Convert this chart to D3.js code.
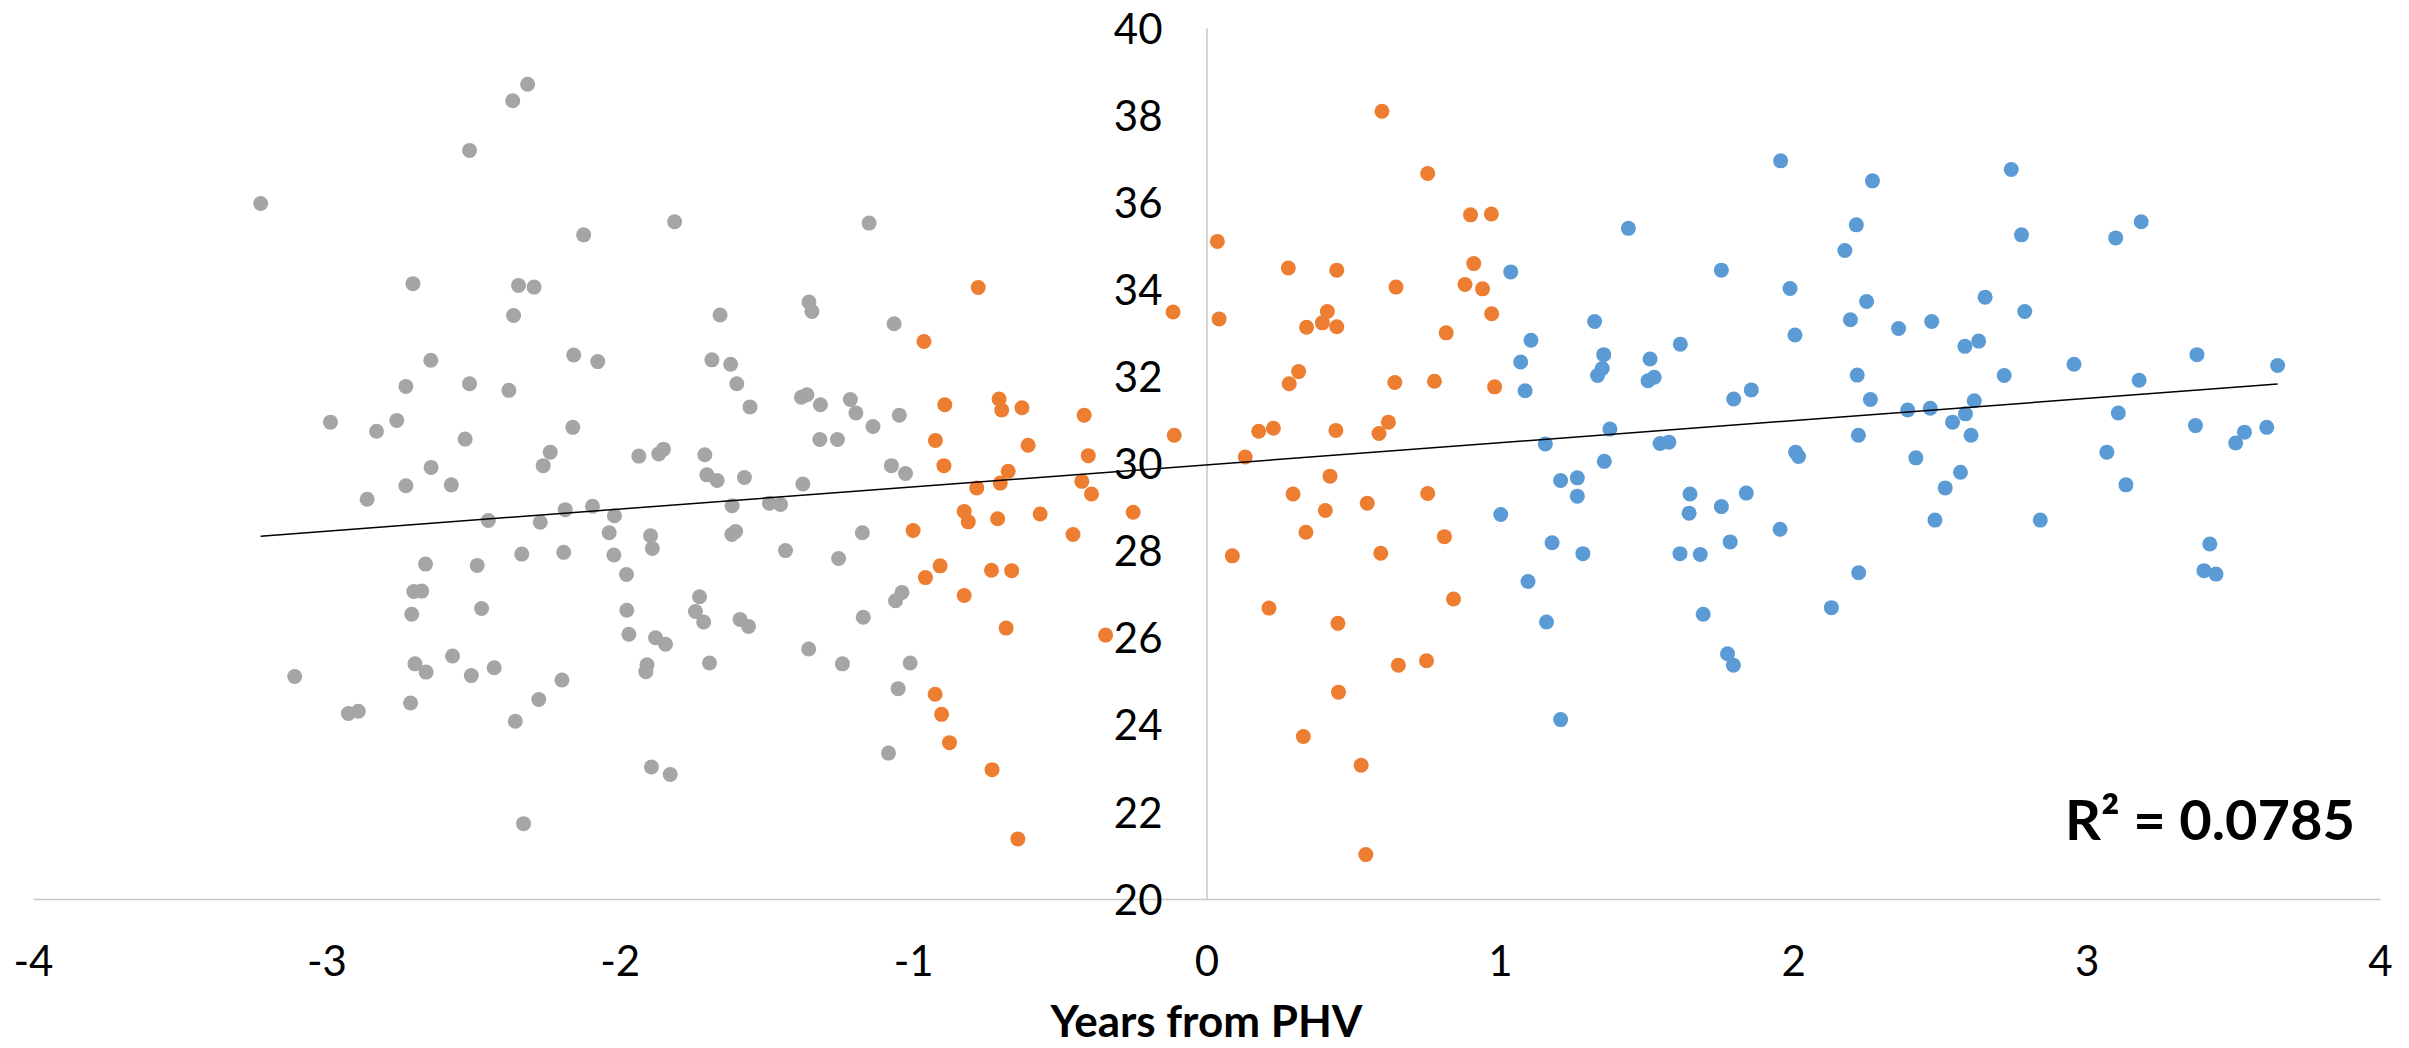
<!DOCTYPE html>
<html>
<head>
<meta charset="utf-8">
<script src="https://cdn.jsdelivr.net/npm/d3@7"></script>
<style>
    body { margin: 0; background: #fff; }
    text { font-family: Lato, "Open Sans", sans-serif; fill: #000; }
</style>
</head>
<body>
<div id="chart"></div>
<script>

// Points: [years from PHV, value]
var grayPts = [
    [-2.314, 38.71], [-2.365, 38.33], [-2.512, 37.19], [-3.224, 35.97], [-1.813, 35.55], [-2.123, 35.25],
    [-2.705, 34.13], [-2.345, 34.09], [-2.292, 34.05], [-2.362, 33.40], [-1.658, 33.41], [-2.644, 32.37],
    [-2.157, 32.49], [-2.075, 32.34], [-1.686, 32.38], [-1.622, 32.28], [-2.729, 31.77], [-2.512, 31.83],
    [-2.378, 31.68], [-1.601, 31.83], [-1.556, 31.30], [-2.986, 30.95], [-2.829, 30.74], [-2.760, 30.99],
    [-2.527, 30.56], [-2.160, 30.83], [-2.237, 30.26], [-1.935, 30.17], [-1.867, 30.22], [-1.851, 30.33],
    [-1.710, 30.20], [-2.643, 29.91], [-2.261, 29.95], [-2.861, 29.18], [-2.729, 29.49], [-2.574, 29.51],
    [-1.703, 29.74], [-1.668, 29.61], [-1.575, 29.68], [-2.448, 28.69], [-2.271, 28.65], [-2.186, 28.94],
    [-2.093, 29.02], [-2.018, 28.80], [-2.036, 28.41], [-1.895, 28.34], [-1.889, 28.05], [-1.617, 29.03],
    [-1.618, 28.37], [-1.605, 28.44], [-2.662, 27.69], [-2.486, 27.66], [-2.334, 27.92], [-2.191, 27.96],
    [-2.020, 27.90], [-1.977, 27.45], [-2.702, 27.06], [-2.675, 27.07], [-2.709, 26.54], [-2.471, 26.67],
    [-1.976, 26.63], [-1.969, 26.08], [-1.728, 26.94], [-1.742, 26.60], [-1.714, 26.36], [-1.590, 26.42],
    [-1.561, 26.26], [-1.878, 26.00], [-1.844, 25.85], [-1.907, 25.38], [-1.911, 25.22], [-1.694, 25.42],
    [-3.108, 25.11], [-2.698, 25.40], [-2.660, 25.21], [-2.570, 25.58], [-2.506, 25.13], [-2.428, 25.31],
    [-2.197, 25.03], [-2.925, 24.26], [-2.891, 24.31], [-2.713, 24.50], [-2.276, 24.58], [-2.356, 24.08],
    [-1.892, 23.03], [-1.828, 22.86], [-2.328, 21.73], [-1.150, 35.52], [-1.355, 33.71], [-1.345, 33.49],
    [-1.065, 33.21], [-1.381, 31.52], [-1.362, 31.58], [-1.316, 31.35], [-1.214, 31.47], [-1.195, 31.16],
    [-1.047, 31.11], [-1.137, 30.85], [-1.318, 30.55], [-1.258, 30.55], [-1.074, 29.95], [-1.026, 29.77],
    [-1.376, 29.53], [-1.490, 29.09], [-1.452, 29.06], [-1.173, 28.41], [-1.435, 28.00], [-1.254, 27.82],
    [-1.038, 27.04], [-1.060, 26.85], [-1.170, 26.47], [-1.356, 25.74], [-1.241, 25.40], [-1.010, 25.42],
    [-1.051, 24.83], [-1.084, 23.35]
];

var orangePts = [
    [-0.778, 34.04], [-0.963, 32.80], [-0.114, 33.48], [0.037, 35.10], [0.043, 33.32], [-0.892, 31.35],
    [-0.707, 31.48], [-0.698, 31.23], [-0.629, 31.28], [-0.417, 31.11], [-0.924, 30.53], [-0.608, 30.42],
    [-0.110, 30.65], [-0.403, 30.18], [0.178, 30.74], [0.132, 30.15], [-0.895, 29.95], [-0.676, 29.82],
    [-0.783, 29.44], [-0.703, 29.55], [-0.425, 29.59], [-0.392, 29.30], [-0.826, 28.90], [-0.812, 28.66],
    [-0.712, 28.73], [-0.567, 28.84], [-0.250, 28.88], [-1.000, 28.46], [-0.455, 28.37], [-0.908, 27.65],
    [-0.958, 27.38], [-0.733, 27.55], [-0.664, 27.54], [-0.826, 26.97], [-0.683, 26.22], [-0.344, 26.06],
    [0.088, 27.88], [-0.925, 24.70], [-0.903, 24.24], [-0.876, 23.59], [-0.731, 22.97], [-0.643, 21.38],
    [0.598, 38.09], [0.754, 36.66], [0.900, 35.71], [0.971, 35.73], [0.911, 34.59], [0.279, 34.49],
    [0.444, 34.44], [0.646, 34.05], [0.881, 34.11], [0.941, 34.01], [0.972, 33.44], [0.412, 33.49],
    [0.395, 33.23], [0.341, 33.13], [0.444, 33.14], [0.817, 33.00], [0.314, 32.11], [0.282, 31.83],
    [0.642, 31.86], [0.777, 31.89], [0.982, 31.76], [0.228, 30.81], [0.441, 30.76], [0.620, 30.95],
    [0.588, 30.69], [0.421, 29.71], [0.295, 29.30], [0.405, 28.92], [0.548, 29.09], [0.754, 29.31],
    [0.339, 28.42], [0.811, 28.32], [0.594, 27.94], [0.842, 26.89], [0.213, 26.68], [0.448, 26.33],
    [0.654, 25.37], [0.750, 25.47], [0.450, 24.75], [0.330, 23.73], [0.527, 23.07], [0.543, 21.02]
];

var bluePts = [
    [1.037, 34.40], [1.438, 35.40], [1.755, 34.44], [1.323, 33.26], [1.106, 32.83], [1.071, 32.33],
    [1.086, 31.67], [1.354, 32.50], [1.349, 32.18], [1.333, 32.02], [1.512, 32.40], [1.526, 31.98],
    [1.505, 31.90], [1.615, 32.74], [1.857, 31.69], [1.797, 31.48], [1.375, 30.79], [1.155, 30.45],
    [1.546, 30.46], [1.576, 30.49], [1.356, 30.05], [1.003, 28.83], [1.207, 29.61], [1.264, 29.67],
    [1.264, 29.25], [1.178, 28.18], [1.283, 27.93], [1.096, 27.29], [1.159, 26.36], [1.207, 24.12],
    [1.648, 29.30], [1.645, 28.86], [1.755, 29.01], [1.840, 29.32], [1.785, 28.20], [1.614, 27.93],
    [1.683, 27.91], [1.693, 26.54], [1.776, 25.63], [1.796, 25.37], [1.957, 36.95], [2.270, 36.49],
    [2.743, 36.75], [2.215, 35.48], [2.176, 34.89], [2.778, 35.25], [3.099, 35.18], [3.186, 35.55],
    [1.989, 34.02], [2.250, 33.72], [2.195, 33.30], [2.006, 32.95], [2.359, 33.10], [2.472, 33.26],
    [2.654, 33.82], [2.789, 33.49], [2.585, 32.69], [2.632, 32.81], [2.218, 32.03], [2.719, 32.02],
    [2.957, 32.28], [3.376, 32.50], [3.651, 32.25], [3.179, 31.91], [2.263, 31.47], [2.390, 31.23],
    [2.467, 31.27], [2.617, 31.44], [2.587, 31.14], [2.543, 30.95], [2.222, 30.65], [2.606, 30.65],
    [3.108, 31.16], [3.371, 30.87], [3.538, 30.72], [3.508, 30.47], [3.614, 30.83], [3.069, 30.26],
    [2.008, 30.26], [2.018, 30.16], [2.418, 30.13], [1.955, 28.49], [2.570, 29.80], [2.518, 29.44],
    [2.483, 28.70], [2.842, 28.70], [3.134, 29.51], [2.223, 27.49], [2.130, 26.69], [3.420, 28.15],
    [3.400, 27.54], [3.441, 27.46]
];

var xTicks = [-4, -3, -2, -1, 0, 1, 2, 3, 4];
var yTicks = [20, 22, 24, 26, 28, 30, 32, 34, 36, 38, 40];
var xTitle = "Years from PHV";
var r2Label = "R\u00B2 = 0.0785";

var W = 2409, H = 1048;

var svg = d3.select("#chart").append("svg")
    .attr("width", W)
    .attr("height", H);

var x = d3.scaleLinear().domain([-4, 4]).range([33, 2380]);
var y = d3.scaleLinear().domain([20, 40]).range([899, 28]);

// x axis sits at y = 20, plain hyphen for negatives like the original
var xAxis = svg.append("g")
    .attr("transform", `translate(0,${y(20)})`)
    .call(d3.axisBottom(x).tickValues(xTicks).tickSize(0).tickPadding(47).tickFormat(d => String(d)));

// y axis crosses at x = 0
var yAxis = svg.append("g")
    .attr("transform", `translate(${x(0)},0)`)
    .call(d3.axisLeft(y).tickValues(yTicks).tickSize(0).tickPadding(44));

[xAxis, yAxis].forEach(g => {
    g.select(".domain").attr("stroke", "#c6c6c6").attr("stroke-width", 1.5);
    g.selectAll("text").attr("font-size", 42).attr("fill", "#000");
});
yAxis.selectAll("text").attr("dy", "0.36em");

// points
var series = [
    {pts: grayPts, color: "#a5a5a5"},
    {pts: orangePts, color: "#ed7d31"},
    {pts: bluePts, color: "#5b9bd5"}
];

series.forEach(s => {
    svg.append("g")
        .selectAll("circle")
        .data(s.pts)
        .enter().append("circle")
        .attr("cx", d => x(d[0]))
        .attr("cy", d => y(d[1]))
        .attr("r", 7.5)
        .attr("fill", s.color);
});

// linear trendline fitted on all points
var all = grayPts.concat(orangePts, bluePts);
var mx = d3.mean(all, d => d[0]), my = d3.mean(all, d => d[1]);
var sxy = d3.sum(all, d => (d[0] - mx) * (d[1] - my));
var sxx = d3.sum(all, d => (d[0] - mx) * (d[0] - mx));
var slope = sxy / sxx, icpt = my - slope * mx;
var xExt = d3.extent(all, d => d[0]);

svg.append("line")
    .attr("x1", x(xExt[0])).attr("y1", y(icpt + slope * xExt[0]))
    .attr("x2", x(xExt[1])).attr("y2", y(icpt + slope * xExt[1]))
    .attr("stroke", "#000")
    .attr("stroke-width", 1.5);

svg.append("text")
    .attr("x", 2355)
    .attr("y", 840)
    .attr("text-anchor", "end")
    .attr("font-size", 56)
    .attr("font-weight", "bold")
    .text(r2Label);

svg.append("text")
    .attr("x", x(0))
    .attr("y", 1037)
    .attr("text-anchor", "middle")
    .attr("font-size", 44)
    .attr("font-weight", "bold")
    .text(xTitle);

</script>
</body>
</html>
